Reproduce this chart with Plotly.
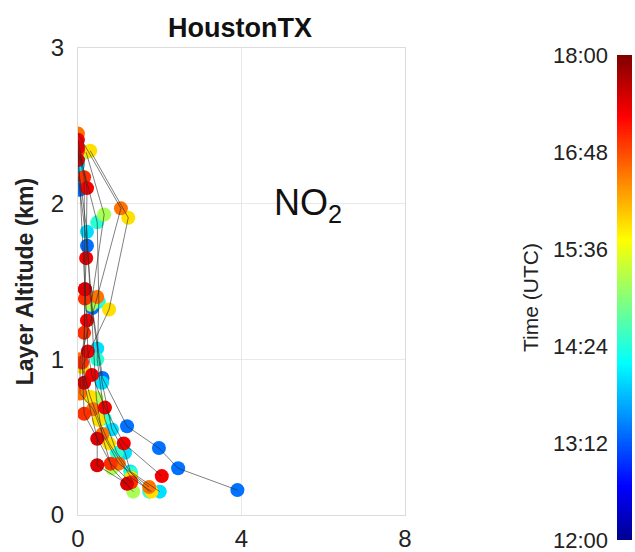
import numpy as np
import plotly.graph_objects as go

# ---- data: NO2 layer profiles (x = NO2 column, alt = layer altitude km), time in UTC hours
prof_time = [13.35, 14.0, 14.45, 15.2, 15.9, 16.55, 16.95, 17.3, 17.45]
prof_no2 = [
    [3.9, 2.45, 1.98, 1.2, 0.6, 0.35, 0.22, 0.05, 0.0],
    [2.0, 1.28, 1.15, 0.83, 0.59, 0.47, 0.3, 0.22, 0.0],
    [1.74, 1.3, 0.95, 0.65, 0.47, 0.51, 0.47, 0.05],
    [1.35, 0.83, 0.6, 0.45, 0.32, 0.64, 0.2],
    [1.8, 1.3, 0.76, 0.51, 0.3, 0.1, 0.76, 1.23, 0.3],
    [1.74, 1.0, 0.6, 0.37, 0.05, 0.05, 0.47, 1.05, 0.0],
    [1.3, 0.8, 0.15, 0.1, 0.15, 0.17, 0.15, 0.0],
    [2.05, 1.12, 0.66, 0.34, 0.24, 0.22, 0.17, 0.2, 0.22, 0.0],
    [1.2, 0.47, 0.47, 0.15, 0.17, 0.0, 0.0],
]
prof_alt = [
    [0.16, 0.30, 0.43, 0.57, 0.88, 1.33, 1.73, 2.09, 2.18],
    [0.15, 0.28, 0.40, 0.55, 0.85, 1.07, 1.40, 1.82, 2.25],
    [0.15, 0.27, 0.40, 0.62, 1.00, 1.37, 1.88, 2.31],
    [0.15, 0.30, 0.50, 0.75, 1.35, 1.93, 2.33],
    [0.15, 0.24, 0.46, 0.61, 0.76, 0.95, 1.32, 1.91, 2.34],
    [0.18, 0.33, 0.52, 0.68, 0.78, 1.00, 1.40, 1.97, 2.45],
    [0.21, 0.33, 0.65, 0.98, 1.17, 1.39, 2.17, 2.34],
    [0.25, 0.46, 0.69, 0.90, 1.05, 1.25, 1.45, 1.65, 2.10, 2.41],
    [0.20, 0.32, 0.49, 0.85, 1.45, 2.28, 2.36],
]
cb_tickvals = [12.0, 13.2, 14.4, 15.6, 16.8, 18.0]
cb_ticktext = ["12:00", "13:12", "14:24", "15:36", "16:48", "18:00"]
x_ticks = [0, 4, 8]
y_ticks = [0, 1, 2, 3]

jet = [[0.0, "rgb(0,0,143)"], [0.111, "rgb(0,0,255)"], [0.365, "rgb(0,255,255)"],
       [0.619, "rgb(255,255,0)"], [0.873, "rgb(255,0,0)"], [1.0, "rgb(128,0,0)"]]

FONT = "Liberation Sans, Arial, sans-serif"
W, H = 635, 552

mx, my, mc = [], [], []
lx, ly = [], []
for t, xs, ys in zip(prof_time, prof_no2, prof_alt):
    mx += xs
    my += ys
    mc += [t] * len(xs)
    lx += xs + [None]
    ly += ys + [None]

fig = go.Figure()
fig.add_trace(go.Scatter(
    x=mx, y=my, mode="markers",
    marker=dict(size=14, color=mc, colorscale=jet, cmin=12, cmax=18, showscale=False,
                line=dict(width=0)),
    xaxis="x", yaxis="y", hoverinfo="skip", showlegend=False))
fig.add_trace(go.Scatter(
    x=lx, y=ly, mode="lines", line=dict(color="rgba(40,40,40,0.85)", width=0.7),
    xaxis="x", yaxis="y", hoverinfo="skip", showlegend=False))

cb_vals = np.linspace(cb_tickvals[0], cb_tickvals[-1], 301)
fig.add_trace(go.Heatmap(
    x=[0], y=cb_vals, z=[[v] for v in cb_vals], colorscale=jet, zmin=12, zmax=18,
    showscale=False, xaxis="x2", yaxis="y2", hoverinfo="skip"))


def px_x(p):
    return p / W


def px_y(p):
    return (H - p) / H


fig.update_layout(
    width=W, height=H,
    margin=dict(l=0, r=0, t=0, b=0),
    paper_bgcolor="white", plot_bgcolor="white",
    font=dict(family=FONT, color="#222"),
    xaxis=dict(domain=[px_x(78), px_x(405)], range=[0, 8], tickvals=x_ticks,
               tickfont=dict(size=24, color="#222"), showgrid=True, gridcolor="#e8e8e8",
               zeroline=False, showline=True, linecolor="#dcdcdc", linewidth=1, mirror=True,
               ticks="", automargin=False, ticklabelstandoff=2, ticklabeloverflow="allow"),
    yaxis=dict(domain=[px_y(515), px_y(48)], range=[0, 3], tickvals=y_ticks,
               tickfont=dict(size=24, color="#222"), showgrid=True, gridcolor="#e8e8e8",
               zeroline=False, showline=True, linecolor="#dcdcdc", linewidth=1, mirror=True,
               ticks="", automargin=False, ticklabelstandoff=8, ticklabeloverflow="allow",
               title=dict(text="<b>Layer Altitude (km)</b>", font=dict(size=23, color="#222"),
                          standoff=10)),
    xaxis2=dict(domain=[px_x(617), px_x(632)], range=[-0.5, 0.5], visible=False,
                anchor="y2"),
    yaxis2=dict(domain=[px_y(540), px_y(55)], range=[12, 18], anchor="x2", side="left",
                tickvals=cb_tickvals, ticktext=cb_ticktext,
                tickfont=dict(size=22, color="#222"), showgrid=False, zeroline=False,
                ticks="", showline=False, automargin=False, ticklabelstandoff=8,
                ticklabeloverflow="allow",
                title=dict(text="Time (UTC)", font=dict(size=21, color="#222"), standoff=8)),
    annotations=[
        dict(text="<b>HoustonTX</b>", x=px_x(240), y=px_y(28), xref="paper", yref="paper",
             showarrow=False, font=dict(size=27, color="#111"), xanchor="center",
             yanchor="middle"),
        dict(text="NO<sub>2</sub>", x=px_x(272), y=px_y(205), xref="paper", yref="paper",
             showarrow=False, font=dict(size=36, color="#111"), xanchor="left",
             yanchor="middle"),
    ],
)

fig.write_html(
    "out.html",
    config={"displayModeBar": False},
    post_script="document.body.style.margin='0';document.body.style.overflow='hidden';",
)
